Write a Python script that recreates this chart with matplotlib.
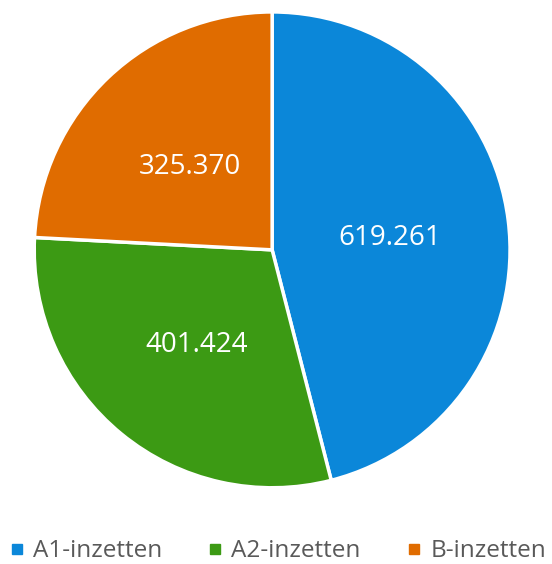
import matplotlib.pyplot as plt
from matplotlib.lines import Line2D

labels = ["A1-inzetten", "A2-inzetten", "B-inzetten"]
values = [619261, 401424, 325370]
colors = ["#0B87D9", "#3C9A14", "#E06C00"]


def fmt_value(pct):
    v = int(round(pct * sum(values) / 100.0))
    return f"{v:,}".replace(",", ".")


fig = plt.figure(figsize=(5.52, 5.64), dpi=100)
ax = fig.add_axes([0.062, 0.135, 0.862, 0.844])

wedges, texts, autotexts = ax.pie(
    values,
    colors=colors,
    startangle=90,
    counterclock=False,
    autopct=fmt_value,
    pctdistance=0.5,
    wedgeprops=dict(edgecolor="white", linewidth=2.5),
    textprops=dict(color="white", fontsize=20, family="Open Sans"),
)
for t in autotexts:
    t.set_va("center_baseline")
ax.set_xlim(-1, 1)
ax.set_ylim(-1, 1)
ax.set_aspect("equal")

handles = [
    Line2D([], [], marker="s", ls="none", color=c, markersize=7.2) for c in colors
]
fig.legend(
    handles,
    labels,
    loc="center",
    bbox_to_anchor=(0.504, 0.023),
    ncol=3,
    frameon=False,
    handlelength=0.5,
    handletextpad=0.41,
    columnspacing=1.95,
    borderaxespad=0,
    prop=dict(family="Open Sans", size=17.5),
    labelcolor="#595959",
)

fig.savefig("out.png", dpi=100)
